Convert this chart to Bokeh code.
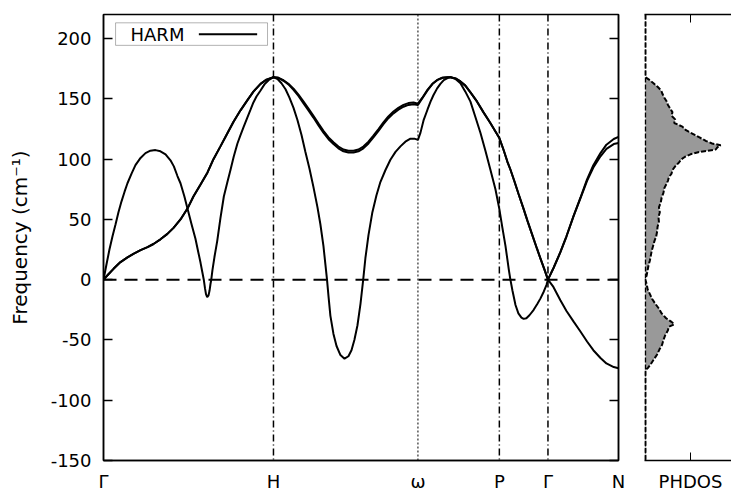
from bokeh.plotting import figure
from bokeh.models import Span, BoxAnnotation, Label, LinearAxis, FixedTicker, Range1d
from bokeh.layouts import row
from bokeh.embed import file_html
from bokeh.resources import INLINE

FONT = "DejaVu Sans"
TICK_SIZE = "18px"

# ---- high-symmetry path ----
kpoint_labels = ["Γ", "H", "ω", "P", "Γ", "N"]
kpoint_pos = [0.0, 1.0, 1.85, 2.329, 2.615, 3.03]
freq_ticks = [-150, -100, -50, 0, 50, 100, 150, 200]

# ---- branch 1 (single branch) ----
branch1_k = [0, .018, .035, .053, .071, .088, .106, .124, .141, .165, .188, .218, .247, .276, .306, .335, .365,
             .394, .414, .435, .453, .476, .494, .518, .541, .559, .571, .581, .590, .597, .603, .610, .618, .624,
             .629, .634, .641, .653, .669, .688, .708, .729, .747, .766, .788, .806, .824, .845, .865, .882, .900,
             .924, .947, .971, 1.0,
             1.024, 1.047, 1.071, 1.094, 1.118, 1.141, 1.165, 1.188, 1.212, 1.235, 1.259, 1.276, 1.294, 1.306,
             1.315, 1.324, 1.335, 1.353, 1.371, 1.394, 1.418, 1.441, 1.459, 1.476, 1.494, 1.512, 1.528, 1.541,
             1.559, 1.582, 1.606, 1.629, 1.659, 1.688, 1.718, 1.747, 1.776, 1.806, 1.829, 1.85,
             1.865, 1.884, 1.906, 1.924, 1.941, 1.963, 1.982, 2.002, 2.024, 2.041, 2.071, 2.1, 2.129, 2.159,
             2.188, 2.218, 2.247, 2.276, 2.306, 2.329,
             2.347, 2.365, 2.376, 2.385, 2.394, 2.406, 2.424, 2.441, 2.459, 2.472, 2.488, 2.506, 2.531, 2.553,
             2.571, 2.590, 2.606, 2.615,
             2.647, 2.688, 2.724, 2.766, 2.806, 2.845, 2.882, 2.924, 2.959, 3.002, 3.03]
branch1_f = [0, 13, 25, 36, 46, 56, 65, 73, 80, 88, 95, 101, 105, 107, 107.5, 106.5, 104,
             99, 94, 86, 80, 69, 59, 46, 34, 22, 14, 6.6, 0, -7, -12, -14.5, -13, -9,
             -4, 0, 8, 19, 32, 51, 69, 81, 91, 102, 113, 120, 126.5, 134, 141, 147, 152,
             157, 162, 165.5, 168,
             166.5, 163, 158, 151, 142.5, 132.5, 120, 106, 92, 77, 60, 46, 28, 12,
             0, -14, -30, -45, -55, -62.5, -65.5, -63.5, -58.5, -50, -38, -20, 0, 18,
             37, 56, 70, 81, 91, 99.5, 106, 110.6, 114.5, 117, 117, 116,
             122, 132.6, 141, 147.7, 153, 158.7, 162.5, 165.6, 167.3, 168, 166.5, 163, 156, 147.7,
             135, 121.7, 107, 91.4, 75, 58.5,
             43, 28, 17, 8, 0, -9, -21, -28, -31.5, -32.5, -32, -29.5, -25, -20,
             -15.5, -10, -4.5, 0,
             -6, -17, -26, -34.8, -43, -51.3, -58.5, -65, -69.5, -72.5, -73.5]

# ---- branches 2 and 3 (near-degenerate pair) ----
pair_k = [0, .029, .059, .1, .141, .176, .218, .259, .294, .335, .376, .412, .453, .494, .529, .571, .612,
          .647, .688, .729, .765, .806, .847, .882, .924, .959, 1.0,
          1.029, 1.059, 1.088, 1.118, 1.147, 1.176, 1.206, 1.235, 1.265, 1.294, 1.324, 1.353, 1.382, 1.412,
          1.441, 1.471, 1.5, 1.529, 1.559, 1.588, 1.618, 1.647, 1.676, 1.706, 1.735, 1.765, 1.794, 1.824, 1.85,
          1.876, 1.906, 1.935, 1.965, 1.994, 2.024, 2.041, 2.071, 2.1, 2.129, 2.159, 2.198, 2.235, 2.276,
          2.306, 2.329,
          2.353, 2.376, 2.394, 2.418, 2.441, 2.472, 2.494, 2.518, 2.551, 2.571, 2.594, 2.615,
          2.647, 2.688, 2.724, 2.766, 2.806, 2.845, 2.882, 2.924, 2.959, 3.002, 3.03]
branch2_f = [0, 4.5, 9, 14.6, 18.5, 21.4, 24.5, 27, 29.6, 33.5, 38, 43, 50, 59, 69, 79, 89,
             100, 110.6, 121.5, 131, 140.5, 149, 156, 162.5, 166, 168,
             167.5, 165.5, 162.5, 158.5, 153.5, 148, 142, 136, 129.5, 123.5, 118, 114, 110.5, 108,
             107, 107, 108, 110.5, 114.5, 119.5, 125, 130.5, 135.5, 139.5, 142.5, 145, 146.5, 147, 146,
             151, 157.5, 162.5, 165.8, 167.5, 168, 168, 167, 164.5, 161, 155.4, 147.7, 139, 130,
             123, 117.5,
             108, 98, 91.4, 81.5, 71.5, 58.5, 49, 39, 25.5, 17.5, 8.5, 0,
             9.5, 22.8, 36, 53, 68, 83.2, 95, 105, 112, 116.7, 118.5]
branch3_f = [0, 4.5, 9, 14.6, 18.5, 21.4, 24.5, 27, 29.6, 33.5, 38, 43, 50, 59, 69, 79, 89,
             100, 110.6, 121.5, 131, 140.5, 149, 156, 162.5, 166, 168,
             167.5, 165, 162, 157.5, 152.5, 146.5, 140.5, 134.5, 128, 122, 116.5, 112.5, 109, 106.5,
             105.5, 105.5, 106.5, 109, 113, 118, 123.5, 129, 134, 138, 141, 143.5, 145, 145.5, 145,
             150.5, 157, 162.3, 165.7, 167.5, 168, 168, 167, 164.5, 161, 155.4, 147.7, 139, 130,
             123, 117.5,
             108, 98, 91.4, 81.5, 71.5, 58.5, 49, 39, 25.5, 17.5, 8.5, 0,
             9.5, 22.8, 36, 53, 67.5, 82, 93, 102.4, 108.5, 112.5, 113.4]

# ---- phonon DOS ----
dos_freq = [220, 168, 166, 163, 160, 157, 154, 151, 148, 145, 142, 139, 136, 133, 130, 127, 124, 121, 118, 115,
            113, 111.5, 110, 108, 106, 104, 102, 100, 97, 94, 91, 88, 85, 82, 79, 76, 72, 68, 64, 60,
            56, 52, 48, 44, 40, 36, 32, 28, 24, 20, 16, 12, 8, 4, 0, -4, -8, -12, -16, -20,
            -24, -28, -32, -35, -37, -39, -42, -46, -50, -54, -58, -62, -66, -70, -73, -75, -150]
dos_val = [0, 0, 0.08, 0.18, 0.27, 0.35, 0.38, 0.42, 0.47, 0.50, 0.55, 0.60, 0.58, 0.66, 0.64, 0.82, 0.90, 1.05, 1.20, 1.35,
           1.48, 1.67, 1.60, 1.56, 1.20, 1.00, 0.88, 0.80, 0.74, 0.66, 0.60, 0.58, 0.52, 0.50, 0.46, 0.42, 0.40, 0.36, 0.34, 0.30,
           0.32, 0.29, 0.30, 0.27, 0.26, 0.24, 0.20, 0.17, 0.14, 0.12, 0.10, 0.07, 0.05, 0.03, 0.0, 0.03, 0.05, 0.10, 0.15, 0.22,
           0.30, 0.36, 0.46, 0.58, 0.64, 0.52, 0.50, 0.44, 0.40, 0.37, 0.31, 0.26, 0.19, 0.12, 0.06, 0, 0]
dos_tick = 1.0
legend_label = "HARM"

y_range = Range1d(-150, 220)

# ================= dispersion panel =================
p = figure(width=630, height=494, x_range=Range1d(kpoint_pos[0], kpoint_pos[-1]), y_range=y_range,
           output_backend="svg", toolbar_location=None,
           min_border_left=103, min_border_right=12, min_border_top=14, min_border_bottom=31)
p.grid.visible = False
p.outline_line_color = "black"
p.outline_line_width = 1.5
p.background_fill_color = "white"
p.border_fill_color = "white"

for f in (branch2_f, branch3_f):
    p.line(pair_k, f, line_color="black", line_width=2)
p.line(branch1_k, branch1_f, line_color="black", line_width=2)

p.add_layout(Span(location=0, dimension="width", line_color="black", line_width=2, line_dash="13 8"))
for pos, lab in zip(kpoint_pos[1:-1], kpoint_labels[1:-1]):
    if lab == "ω":
        p.add_layout(Span(location=pos, dimension="height", line_color="black", line_width=1, line_dash="2 2"))
    else:
        p.add_layout(Span(location=pos, dimension="height", line_color="black", line_width=1.5, line_dash="7 3 1 3"))

ya = p.yaxis[0]
ya.ticker = FixedTicker(ticks=freq_ticks, minor_ticks=[])
ya.major_label_overrides = {t: str(t) for t in freq_ticks}   # plain hyphen minus, as in the reference
ya.major_tick_in = 9
ya.major_tick_out = 0
ya.major_tick_line_width = 1.5
ya.axis_line_width = 1.5
ya.major_label_standoff = 12
ya.major_label_text_font = FONT
ya.major_label_text_font_size = TICK_SIZE
ya.major_label_text_color = "black"
ya.axis_label = "Frequency (cm⁻¹)"
ya.axis_label_text_font = FONT
ya.axis_label_text_font_size = "20px"
ya.axis_label_text_font_style = "normal"
ya.axis_label_text_color = "black"
ya.axis_label_standoff = 16

xa = p.xaxis[0]
xa.ticker = FixedTicker(ticks=kpoint_pos, minor_ticks=[])
xa.major_label_overrides = {pos: lab for pos, lab in zip(kpoint_pos, kpoint_labels)}
xa.major_tick_in = 0
xa.major_tick_out = 0
xa.axis_line_width = 1.5
xa.major_label_standoff = 10
xa.major_label_text_font = FONT
xa.major_label_text_font_size = TICK_SIZE
xa.major_label_text_color = "black"

ra = LinearAxis(ticker=FixedTicker(ticks=freq_ticks, minor_ticks=[]), major_tick_in=9, major_tick_out=0,
                major_tick_line_width=1.5, axis_line_width=1.5, major_label_text_font_size="0px",
                major_label_standoff=0)
p.add_layout(ra, "right")

# legend (label on the left, line sample on the right, gnuplot style)
p.add_layout(BoxAnnotation(left=0.071, right=0.965, bottom=194.4, top=213.1, fill_color="white", fill_alpha=1,
                           line_color="black", line_width=1, level="underlay"))
p.add_layout(Label(x=0.159, y=203.8, text=legend_label, text_baseline="middle", text_font=FONT,
                   text_font_size="18px", text_color="black"))
p.line([0.561, 0.904], [203.7, 203.7], line_color="black", line_width=2)

# ================= DOS panel =================
d = figure(width=101, height=494, x_range=Range1d(-0.02, 1.91), y_range=y_range, y_axis_location=None,
           output_backend="svg", toolbar_location=None,
           min_border_left=14, min_border_right=0, min_border_top=14, min_border_bottom=31)
d.grid.visible = False
d.outline_line_color = None
d.background_fill_color = "white"
d.border_fill_color = "white"
d.harea(y=dos_freq, x1=[0] * len(dos_freq), x2=dos_val, fill_color="#999999")
d.add_layout(Span(location=0, dimension="height", line_color="black", line_width=1.5, line_dash="5 2"))
d.line(dos_val, dos_freq, line_color="black", line_width=2, line_dash="5 2")

da = d.xaxis[0]
da.ticker = FixedTicker(ticks=[dos_tick], minor_ticks=[])
da.major_label_overrides = {dos_tick: "PHDOS"}
da.major_tick_in = 8
da.major_tick_out = 0
da.major_tick_line_width = 1
da.axis_line_width = 1.5
da.major_label_standoff = 10
da.major_label_text_font = FONT
da.major_label_text_font_size = TICK_SIZE
da.major_label_text_color = "black"

ta = LinearAxis(ticker=FixedTicker(ticks=[dos_tick], minor_ticks=[]), major_tick_in=8, major_tick_out=0,
                axis_line_width=1.5, major_label_text_font_size="0px", major_label_standoff=0)
d.add_layout(ta, "above")

layout = row(p, d, spacing=0)
open("out.html", "w").write(file_html(layout, INLINE))
